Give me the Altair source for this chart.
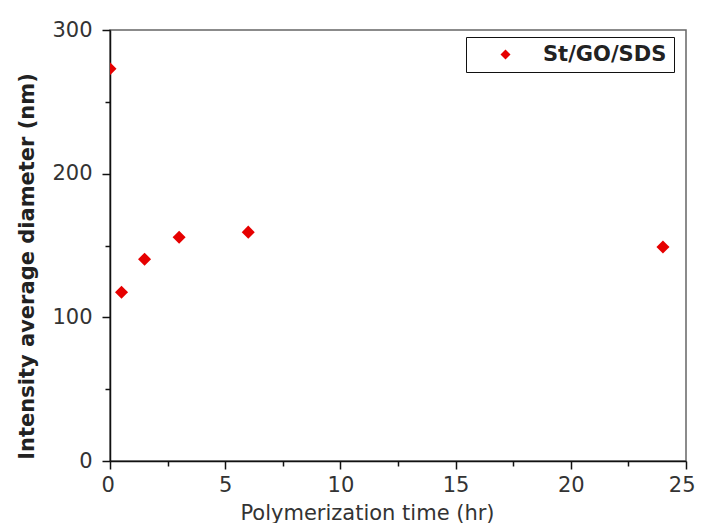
import altair as alt
import pandas as pd

time_hr = [0, 0.5, 1.5, 3, 6, 24]
diameter_nm = [273, 117.5, 140.5, 155.7, 159.3, 149]
series = ["St/GO/SDS"] * len(time_hr)

x_major = [0, 5, 10, 15, 20, 25]
x_minor = [2.5, 7.5, 12.5, 17.5, 22.5]
y_major = [0, 100, 200, 300]
y_minor = [50, 150, 250]

df = pd.DataFrame({"t": time_hr, "d": diameter_nm, "s": series})

FONT = "DejaVu Sans"
RED = "#e60000"

xscale = alt.Scale(domain=[0, 25], nice=False, zero=False)
yscale = alt.Scale(domain=[0, 300], nice=False)

main = alt.Chart(df).mark_point(
    shape="diamond", filled=True, size=170, opacity=1, clip=True
).encode(
    x=alt.X("t:Q", scale=xscale, axis=alt.Axis(
        values=x_major, orient="bottom", title="Polymerization time (hr)",
        tickSize=8, labelPadding=5, domainColor="#111", tickColor="#111",
        labelFont=FONT, labelFontSize=21, labelColor="#333",
        titleFont=FONT, titleFontSize=21, titleFontWeight="normal", titleColor="#333",
        titleX=257, titleY=41, titleBaseline="top", titleAlign="center",
        grid=False, format="d", labelFlush=True, labelFlushOffset=9)),
    y=alt.Y("d:Q", scale=yscale, axis=alt.Axis(
        values=y_major, orient="left", title="Intensity average diameter (nm)",
        tickSize=8, labelPadding=10, domainColor="#111", tickColor="#111",
        labelFont=FONT, labelFontSize=21, labelColor="#333",
        titleFont=FONT, titleFontSize=21, titleFontWeight="bold", titleColor="#222",
        titleX=-73, titleY=236, titleAlign="center", titleAngle=-90,
        grid=False, labelFlush=False)),
    color=alt.Color("s:N", scale=alt.Scale(domain=["St/GO/SDS"], range=[RED]),
                    legend=alt.Legend(
                        title=None, orient="none", legendX=356, legendY=7,
                        strokeColor="#111", padding=7, symbolType="diamond",
                        symbolSize=100, symbolOffset=22, labelOffset=27,
                        labelFont=FONT, labelFontSize=21, labelFontWeight="bold",
                        labelColor="#222", fillColor="white")),
)

minor = alt.Chart(df).mark_point(opacity=0).encode(
    x=alt.X("t:Q", scale=xscale, axis=alt.Axis(
        values=x_minor, orient="bottom", tickSize=5, labels=False, domain=False,
        title=None, grid=False, tickColor="#111")),
    y=alt.Y("d:Q", scale=yscale, axis=alt.Axis(
        values=y_minor, orient="left", tickSize=5, labels=False, domain=False,
        title=None, grid=False, tickColor="#111")),
)

chart = alt.layer(main, minor).resolve_axis(x="independent", y="independent").properties(
    width=576, height=431,
    autosize=alt.AutoSizeParams(type="none"),
    padding={"left": 102, "top": 22, "right": 9, "bottom": 62},
).configure_view(stroke="#666", strokeWidth=1.5).configure_axis(domainWidth=1.5, tickWidth=1.5)

chart.save("out.html", embed_options={"renderer": "svg", "actions": False})
